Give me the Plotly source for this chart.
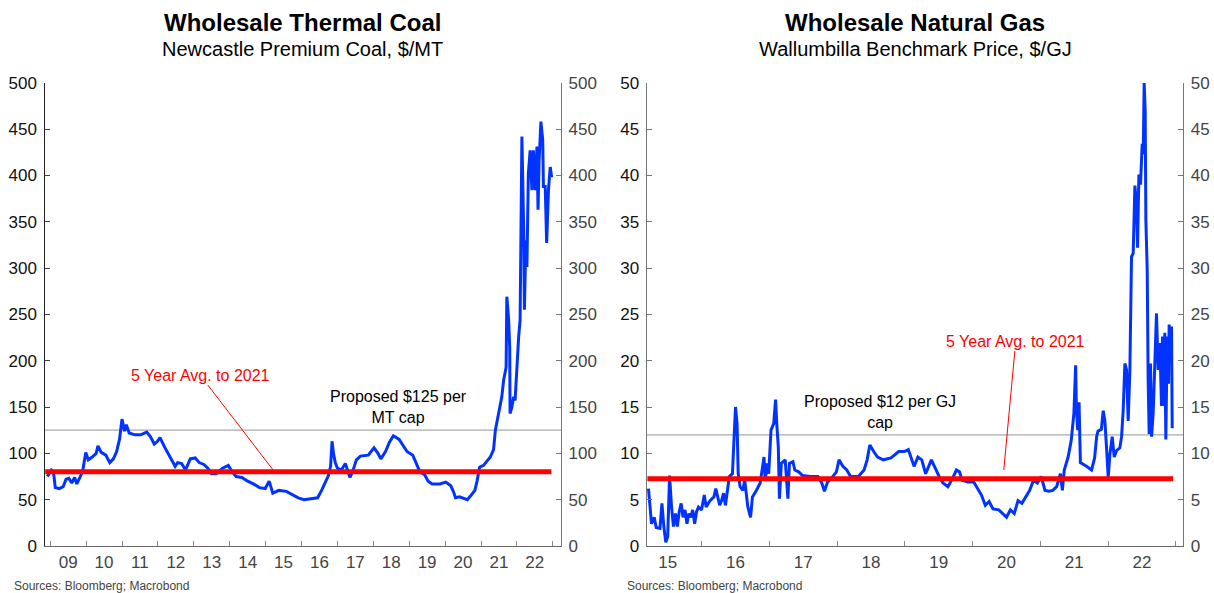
import plotly.graph_objects as go
import pandas as pd

# ---------------- DATA ----------------
coal_years = [2008.92, 2009.03, 2009.09, 2009.14, 2009.25, 2009.36, 2009.44, 2009.52, 2009.60, 2009.68,
              2009.74, 2009.81, 2009.90, 2009.99, 2010.06, 2010.17, 2010.28, 2010.33, 2010.42, 2010.55,
              2010.66, 2010.76, 2010.85, 2010.93, 2011.00, 2011.07, 2011.12, 2011.20, 2011.36, 2011.52,
              2011.69, 2011.79, 2011.90, 2011.99, 2012.06, 2012.17, 2012.28, 2012.39, 2012.48, 2012.55,
              2012.66, 2012.77, 2012.90, 2013.04, 2013.15, 2013.28, 2013.39, 2013.49, 2013.63, 2013.80,
              2013.96, 2014.07, 2014.18, 2014.34, 2014.50, 2014.66, 2014.83, 2014.99, 2015.10, 2015.20,
              2015.37, 2015.58, 2015.75, 2015.91, 2016.07, 2016.29, 2016.45, 2016.56, 2016.67, 2016.75,
              2016.81, 2016.85, 2016.89, 2016.94, 2017.00, 2017.11, 2017.22, 2017.29, 2017.35, 2017.42,
              2017.53, 2017.64, 2017.86, 2018.02, 2018.13, 2018.21, 2018.34, 2018.45, 2018.56, 2018.72,
              2018.83, 2018.94, 2019.10, 2019.21, 2019.30, 2019.43, 2019.53, 2019.64, 2019.86, 2020.02,
              2020.16, 2020.24, 2020.29, 2020.40, 2020.62, 2020.73, 2020.83, 2020.89, 2020.96,
              2021.07, 2021.26, 2021.35, 2021.40, 2021.49, 2021.58, 2021.63, 2021.70, 2021.72, 2021.77,
              2021.80, 2021.81, 2021.86, 2021.91, 2021.95, 2022.00, 2022.05, 2022.09, 2022.14, 2022.19,
              2022.21, 2022.25, 2022.28, 2022.32, 2022.37, 2022.42, 2022.46, 2022.51, 2022.56, 2022.59,
              2022.62, 2022.67, 2022.72, 2022.74, 2022.79, 2022.83, 2022.88, 2022.93, 2022.97]
coal_values = [75, 82, 80, 63, 62, 64, 72, 73, 68, 74,
               67, 72, 80, 101, 93, 96, 100, 108, 101, 98,
               90, 94, 102, 115, 137, 124, 131, 122, 120, 120,
               123, 118, 110, 113, 117, 108, 100, 92, 86, 90,
               89, 82, 94, 95, 90, 88, 84, 78, 78, 84,
               87, 80, 75, 74, 70, 67, 63, 62, 70, 57,
               60, 59, 55, 52, 50, 51, 52, 60, 70, 76,
               86, 113, 100, 90, 84, 82, 89, 80, 74, 80,
               93, 97, 98, 106, 100, 94, 102, 112, 119, 115,
               108, 102, 98, 88, 80, 77, 70, 67, 67, 69,
               65, 58, 52, 53, 50, 55, 60, 70, 85,
               87, 96, 104, 125, 143, 161, 179, 193, 269, 244,
               215, 143, 150, 161, 157, 197, 226, 244, 442, 341,
               255, 330, 301, 402, 427, 384, 427, 384, 431, 363,
               416, 458, 438, 388, 388, 327, 384, 409, 398]

gas_years = [2015.216, 2015.233, 2015.261, 2015.301, 2015.330, 2015.386, 2015.415, 2015.443, 2015.472, 2015.500,
             2015.528, 2015.557, 2015.585, 2015.614, 2015.642, 2015.670, 2015.699, 2015.727, 2015.756, 2015.784,
             2015.813, 2015.841, 2015.869, 2015.898, 2015.926, 2015.955, 2016.000, 2016.040, 2016.068, 2016.125,
             2016.182, 2016.210, 2016.267, 2016.295, 2016.324, 2016.352, 2016.409, 2016.455, 2016.477, 2016.500,
             2016.523, 2016.540, 2016.568, 2016.608, 2016.636, 2016.682, 2016.722, 2016.750, 2016.807, 2016.864,
             2016.892, 2016.920, 2016.938, 2016.966, 2016.989, 2017.023, 2017.063, 2017.091, 2017.108, 2017.131,
             2017.148, 2017.176, 2017.233, 2017.273, 2017.295, 2017.347, 2017.375, 2017.432, 2017.489, 2017.602,
             2017.716, 2017.773, 2017.813, 2017.858, 2017.915, 2017.989, 2018.028, 2018.085, 2018.142, 2018.199,
             2018.313, 2018.398, 2018.443, 2018.483, 2018.540, 2018.597, 2018.682, 2018.795, 2018.909, 2018.994,
             2019.051, 2019.136, 2019.193, 2019.250, 2019.307, 2019.392, 2019.449, 2019.506, 2019.563, 2019.636,
             2019.705, 2019.761, 2019.807, 2019.847, 2019.932, 2020.017, 2020.074, 2020.131, 2020.188, 2020.244,
             2020.301, 2020.386, 2020.472, 2020.500, 2020.557, 2020.614, 2020.670, 2020.727, 2020.784, 2020.841,
             2020.898, 2020.955, 2021.011, 2021.068, 2021.125, 2021.182, 2021.239, 2021.295, 2021.324, 2021.352,
             2021.409, 2021.455, 2021.494, 2021.520, 2021.530, 2021.550, 2021.570, 2021.590, 2021.680, 2021.755,
             2021.800, 2021.830, 2021.850, 2021.900, 2021.927, 2021.952, 2021.976, 2022.001, 2022.026, 2022.060,
             2022.090, 2022.124, 2022.173, 2022.198, 2022.222, 2022.247, 2022.272, 2022.296, 2022.321, 2022.345,
             2022.370, 2022.385, 2022.395, 2022.419, 2022.434, 2022.454, 2022.478, 2022.503, 2022.518, 2022.532,
             2022.547, 2022.557, 2022.577, 2022.591, 2022.606, 2022.626, 2022.641, 2022.665, 2022.690, 2022.714,
             2022.739, 2022.764, 2022.788, 2022.803, 2022.823, 2022.837, 2022.852, 2022.872, 2022.891, 2022.901,
             2022.921, 2022.936, 2022.946]
gas_values = [6.2, 4.9, 2.4, 3.1, 2.0, 1.9, 4.6, 2.1, 0.4, 1.0,
              7.6, 4.2, 2.1, 3.5, 2.1, 3.7, 4.6, 3.1, 3.9, 2.4,
              3.5, 3.1, 3.9, 2.4, 3.7, 4.2, 3.9, 5.5, 4.2, 4.9,
              5.3, 6.2, 4.4, 4.9, 5.7, 4.4, 7.5, 7.8, 10.7, 15.0,
              13.2, 7.8, 6.4, 6.0, 7.1, 4.2, 3.1, 5.3, 6.0, 6.8,
              8.2, 9.6, 7.1, 8.9, 7.8, 12.5, 13.2, 15.8, 13.2, 10.7,
              5.1, 8.9, 9.3, 5.1, 8.9, 9.1, 8.2, 8.0, 7.6, 7.5,
              7.5, 6.8, 5.9, 6.9, 7.3, 8.0, 9.3, 8.6, 8.2, 7.5,
              7.5, 8.2, 9.3, 10.9, 10.2, 9.6, 9.3, 9.5, 10.2, 10.2,
              10.4, 8.6, 9.6, 9.3, 7.8, 9.3, 8.4, 7.5, 6.8, 6.4,
              7.3, 8.2, 8.0, 7.1, 6.9, 6.9, 6.2, 5.5, 4.4, 4.8,
              4.0, 3.9, 3.3, 3.1, 3.9, 3.5, 4.9, 4.6, 5.3, 6.0,
              7.1, 6.8, 7.5, 6.0, 5.9, 6.0, 6.4, 7.8, 6.0, 8.2,
              9.6, 11.4, 14.3, 19.5, 15.0, 12.5, 15.5, 9.0, 8.6, 8.2,
              9.5, 11.8, 12.4, 12.6, 14.6, 13.5, 10.6, 7.4, 9.9, 11.8,
              9.6, 10.3, 10.6, 11.8, 14.6, 19.7, 19.0, 13.5, 19.0, 31.2,
              31.6, 35.2, 38.9, 36.9, 32.2, 40.1, 39.0, 43.4, 42.3, 50.0,
              47.0, 35.2, 29.8, 17.9, 12.1, 19.7, 11.8, 14.3, 20.8, 25.1,
              19.0, 21.9, 15.1, 22.6, 15.1, 23.0, 11.5, 22.6, 17.5, 23.9,
              20.8, 23.7, 12.7]

coal_avg = 80          # 5 year average to 2021, $/MT
coal_cap = 125         # proposed cap, $/MT
coal_avg_span = [2008.86, 2022.96]
gas_avg = 7.25         # 5 year average to 2021, $/GJ
gas_cap = 12           # proposed cap, $/GJ
gas_avg_span = [2015.20, 2022.96]

coal_ticks = list(range(0, 501, 50))
gas_ticks = list(range(0, 51, 5))


def to_date(y):
    yr = int(y)
    start = pd.Timestamp(year=yr, month=1, day=1)
    end = pd.Timestamp(year=yr + 1, month=1, day=1)
    return start + (end - start) * (y - yr)


def dates(lst):
    return [to_date(v) for v in lst]


# ---------------- FIGURE ----------------
W, H = 1214, 593
FONT = "Liberation Sans, Arial, sans-serif"
BLUE = "#0033ff"
RED = "#ff0000"

fig = go.Figure()

fig.add_trace(go.Scatter(x=dates(coal_years), y=coal_values, mode="lines",
                         line=dict(color=BLUE, width=3), xaxis="x", yaxis="y"))
fig.add_trace(go.Scatter(x=dates(coal_avg_span), y=[coal_avg, coal_avg], mode="lines",
                         line=dict(color=RED, width=5), xaxis="x", yaxis="y"))
fig.add_trace(go.Scatter(x=dates(gas_years), y=gas_values, mode="lines",
                         line=dict(color=BLUE, width=3), xaxis="x2", yaxis="y3"))
fig.add_trace(go.Scatter(x=dates(gas_avg_span), y=[gas_avg, gas_avg], mode="lines",
                         line=dict(color=RED, width=5), xaxis="x2", yaxis="y3"))
# invisible carriers so that the mirrored right-hand axes are drawn
fig.add_trace(go.Scatter(x=dates(coal_avg_span), y=[coal_avg, coal_avg], mode="lines",
                         line=dict(color="rgba(0,0,0,0)", width=0), hoverinfo="skip",
                         xaxis="x", yaxis="y2"))
fig.add_trace(go.Scatter(x=dates(gas_avg_span), y=[gas_avg, gas_avg], mode="lines",
                         line=dict(color="rgba(0,0,0,0)", width=0), hoverinfo="skip",
                         xaxis="x2", yaxis="y4"))

xd1 = [44.5 / W, 561 / W]
xd2 = [646.7 / W, 1183.3 / W]
yd = [47 / H, 1 - 82.7 / H]

xcommon = dict(type="date", dtick="M12", tickformat="%y", ticklabelmode="period",
               ticks="inside", ticklen=5, tickcolor="#888", showline=True, linecolor="#666",
               linewidth=1.3, showgrid=False, zeroline=False,
               tickfont=dict(family=FONT, size=17, color="#444"), automargin=False)
ycommon = dict(ticks="inside", ticklen=5, showline=True, linewidth=1.3, showgrid=False,
               zeroline=False, automargin=False, ticklabelstandoff=3)

fig.update_layout(
    xaxis=dict(domain=xd1, anchor="y", tick0="2009-01-01",
               range=[to_date(2008.84), to_date(2023.23)], **xcommon),
    xaxis2=dict(domain=xd2, anchor="y3", tick0="2015-01-01",
                range=[to_date(2015.19), to_date(2023.11)], **xcommon),
    yaxis=dict(domain=yd, anchor="x", range=[0, 500], tickvals=coal_ticks, side="left",
               linecolor="#222", tickcolor="#444",
               tickfont=dict(family=FONT, size=17, color="#111"), **ycommon),
    yaxis2=dict(overlaying="y", anchor="x", side="right", range=[0, 500], tickvals=coal_ticks,
                linecolor="#777", tickcolor="#777",
                tickfont=dict(family=FONT, size=17, color="#444"), **ycommon),
    yaxis3=dict(domain=yd, anchor="x2", range=[0, 50], tickvals=gas_ticks, side="left",
                linecolor="#777", tickcolor="#777",
                tickfont=dict(family=FONT, size=17, color="#111"), **ycommon),
    yaxis4=dict(overlaying="y3", anchor="x2", side="right", range=[0, 50], tickvals=gas_ticks,
                linecolor="#777", tickcolor="#777",
                tickfont=dict(family=FONT, size=17, color="#444"), **ycommon),
    width=W, height=H, margin=dict(l=0, r=0, t=0, b=0),
    paper_bgcolor="white", plot_bgcolor="white", showlegend=False,
    font=dict(family=FONT, color="#000"),
)

# cap lines
fig.add_shape(type="line", xref="x domain", yref="y", x0=0, x1=1, y0=coal_cap, y1=coal_cap,
              line=dict(color="#aaaaaa", width=1.3), layer="below")
fig.add_shape(type="line", xref="x2 domain", yref="y3", x0=0, x1=1, y0=gas_cap, y1=gas_cap,
              line=dict(color="#aaaaaa", width=1.3), layer="below")

ann = []
# titles
for cx, title, sub in [((xd1[0] + xd1[1]) / 2, "Wholesale Thermal Coal", "Newcastle Premium Coal, $/MT"),
                       ((xd2[0] + xd2[1]) / 2, "Wholesale Natural Gas", "Wallumbilla Benchmark Price, $/GJ")]:
    ann.append(dict(x=cx, y=1 - 22 / H, xref="paper", yref="paper", text="<b>%s</b>" % title,
                    showarrow=False, font=dict(family=FONT, size=24, color="#000"),
                    xanchor="center", yanchor="middle"))
    ann.append(dict(x=cx, y=1 - 49 / H, xref="paper", yref="paper", text=sub,
                    showarrow=False, font=dict(family=FONT, size=20, color="#000"),
                    xanchor="center", yanchor="middle"))

# sources
for sx in [12 / W, 625 / W]:
    ann.append(dict(x=sx, y=1 - 586 / H, xref="paper", yref="paper", text="Sources: Bloomberg; Macrobond",
                    showarrow=False, font=dict(family=FONT, size=12, color="#444"),
                    xanchor="left", yanchor="middle"))

# cap labels
ann.append(dict(x=398 / W, y=1 - 407 / H, xref="paper", yref="paper", text="Proposed $125 per<br>MT cap",
                showarrow=False, font=dict(family=FONT, size=16, color="#000"),
                xanchor="center", yanchor="middle", align="center"))
ann.append(dict(x=880 / W, y=1 - 412 / H, xref="paper", yref="paper", text="Proposed $12 per GJ<br>cap",
                showarrow=False, font=dict(family=FONT, size=16, color="#000"),
                xanchor="center", yanchor="middle", align="center"))

# average labels with pointer lines
ann.append(dict(x=to_date(2015.21), y=82, xref="x", yref="y", ax=-73, ay=-95,
                text="5 Year Avg. to 2021", showarrow=True, arrowhead=0, arrowwidth=1,
                arrowcolor=RED, standoff=0, startstandoff=0,
                font=dict(family=FONT, size=16, color=RED)))
ann.append(dict(x=to_date(2020.46), y=8.2, xref="x2", yref="y3", ax=12, ay=-129,
                text="5 Year Avg. to 2021", showarrow=True, arrowhead=0, arrowwidth=1,
                arrowcolor=RED, standoff=0, startstandoff=0,
                font=dict(family=FONT, size=16, color=RED)))

fig.update_layout(annotations=ann)
fig.write_html("out.html", config={"displayModeBar": False},
               post_script="document.body.style.margin='0px';")
